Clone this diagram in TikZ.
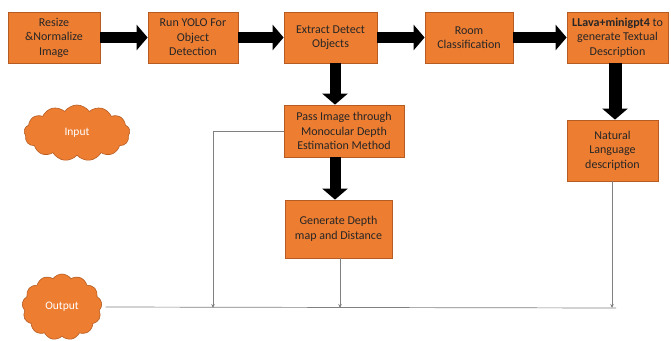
\documentclass[tikz,border=0pt]{standalone}
\usepackage{fontspec}
\setmainfont{Carlito}
\usetikzlibrary{shapes.symbols, positioning, arrows.meta}
\definecolor{BoxOrange}{HTML}{ED7D31}
\definecolor{BoxEdge}{HTML}{B65C22}
\definecolor{LinkGray}{HTML}{808080}

\tikzset{
    procbox/.style={rectangle, fill=BoxOrange, draw=BoxEdge, line width=0.8pt,
        align=center, inner sep=1pt, font=\fontsize{12}{14.5}\selectfont, text=black!85},
    bigarrow/.style={line width=11pt, draw=black, -{Triangle[length=11pt, width=25pt]}},
    thinlink/.style={draw=LinkGray, line width=0.7pt},
    thinarrow/.style={thinlink, -{Stealth[length=4pt, width=3.5pt]}},
    blob/.style={cloud, cloud puffs=13, cloud puff arc=110, fill=BoxOrange, draw=BoxEdge,
        line width=0.6pt, text=white, font=\fontsize{11.5}{13}\selectfont}
}

\begin{document}
\begin{tikzpicture}[x=1pt, y=-1pt]
    \useasboundingbox (0,0) rectangle (671,340);

    % Top row of processing steps
    \node[procbox, minimum width=92pt, minimum height=51pt] (resize) at (54,37.5) {Resize\\\&Normalize\\Image};
    \node[procbox, minimum width=90pt, minimum height=51pt] (yolo) at (193,37.5) {Run YOLO For\\Object\\Detection};
    \node[procbox, minimum width=93pt, minimum height=51pt] (extract) at (330.5,37.5) {Extract Detect\\Objects};
    \node[procbox, minimum width=88pt, minimum height=51pt] (room) at (469,37.5) {Room\\Classification};
    \node[procbox, minimum width=101pt, minimum height=51pt] (llava) at (617.5,37.5) {\textbf{LLava+minigpt4} to\\generate Textual\\Description};

    % Depth branch and description
    \node[procbox, minimum width=120pt, minimum height=52pt] (depth) at (344,131) {Pass Image through\\Monocular Depth\\Estimation Method};
    \node[procbox, minimum width=107pt, minimum height=58pt] (distance) at (338.5,229) {Generate Depth\\map and Distance};
    \node[procbox, minimum width=91pt, minimum height=61pt] (natural) at (612.5,150.5) {Natural\\Language\\description};

    % Clouds
    \node[blob, minimum width=106pt, minimum height=56pt] (input) at (77,133) {Input};
    \node[blob, minimum width=80pt, minimum height=66pt] (output) at (62,307) {Output};

    % Main flow
    \coordinate (xdepth) at (335,0);
    \coordinate (xnat) at (615,0);
    \draw[bigarrow] (resize.east) -- (yolo.west);
    \draw[bigarrow] (yolo.east) -- (extract.west);
    \draw[bigarrow] (extract.east) -- (room.west);
    \draw[bigarrow] (room.east) -- (llava.west);
    \draw[bigarrow] (extract.south -| xdepth) -- (depth.north -| xdepth);
    \draw[bigarrow] (depth.south -| xdepth) -- (distance.north -| xdepth);
    \draw[bigarrow, line width=13pt] (llava.south -| xnat) -- (natural.north -| xnat);

    % Thin links to output
    \coordinate (jdepth) at (213,308);
    \coordinate (jdist) at (340,308);
    \coordinate (jnat) at (612,308);
    \coordinate (outend) at (616,308);
    \draw[thinlink] (output.east) ++(4pt,0) -- (outend);
    \draw[thinarrow] (depth.west) -| (jdepth);
    \draw[thinarrow] (distance.south -| jdist) -- (jdist);
    \draw[thinarrow] (natural.south -| jnat) -- (jnat);
\end{tikzpicture}
\end{document}
